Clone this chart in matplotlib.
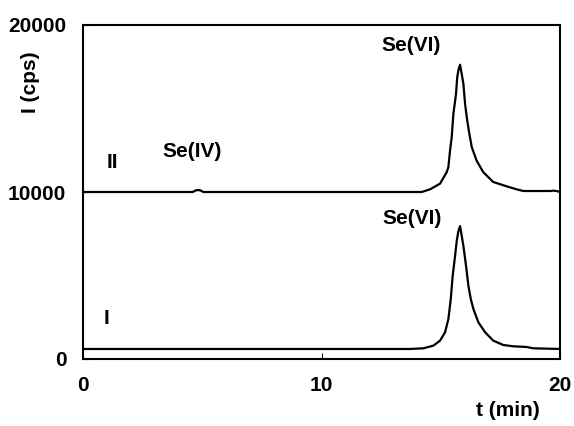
import matplotlib
matplotlib.use("Agg")
import matplotlib.pyplot as plt

# Trace I (lower): time (min) and intensity (cps)
t_I = [0.0, 4.0, 8.0, 12.0, 13.71, 14.27, 14.69, 14.97, 15.18, 15.32, 15.42, 15.50, 15.60,
       15.67, 15.74, 15.81, 15.88, 15.95, 16.06, 16.16, 16.26, 16.37, 16.58, 16.86,
       17.20, 17.62, 18.04, 18.60, 18.88, 20.0]
y_I = [600, 600, 600, 600, 600, 640, 800, 1100, 1600, 2390, 3590, 4980, 6170,
       7070, 7660, 7960, 7370, 6770, 5580, 4380, 3590, 2990, 2190, 1600,
       1100, 840, 760, 720, 640, 600]

# Trace II (upper): time (min) and intensity (cps)
t_II = [0.0, 4.6, 4.75, 4.9, 5.05, 14.20, 14.55, 14.97, 15.25, 15.32, 15.39, 15.46, 15.53,
        15.64, 15.69, 15.75, 15.81, 15.88, 15.95, 16.02, 16.11, 16.20, 16.30,
        16.50, 16.78, 17.20, 17.76, 18.18, 18.46, 19.6, 19.72, 19.85, 20.0]
y_II = [10000, 10000, 10110, 10110, 10000, 10000, 10160, 10500, 11190, 11490, 12490, 13280, 14680,
        15870, 16870, 17360, 17620, 17060, 16470, 15270, 14280, 13480, 12690,
        11890, 11190, 10600, 10340, 10160, 10060, 10060, 10080, 10060, 10000]

x_ticks = [0, 10, 20]
y_ticks = [0, 10000, 20000]

plt.rcParams['font.family'] = ['Liberation Sans', 'DejaVu Sans']
plt.rcParams['font.weight'] = 'bold'

FS = 15

fig = plt.figure(figsize=(5.74, 4.26), dpi=100)
ax = fig.add_axes([83/574, 1-359/426, (560-83)/574, (359-25)/426])

ax.plot(t_I, y_I, color='black', lw=1.6)
ax.plot(t_II, y_II, color='black', lw=1.6)

ax.set_xlim(0, 20)
ax.set_ylim(0, 20000)
ax.set_xticks(x_ticks)
ax.set_yticks(y_ticks)
ax.set_xticklabels([str(v) for v in x_ticks], fontsize=FS, fontweight='bold')
ax.set_yticklabels([str(v) for v in y_ticks], fontsize=FS, fontweight='bold')
ax.tick_params(direction='in', length=4, width=0.8, pad=12)
for s in ax.spines.values():
    s.set_linewidth(1.5)

ax.text(13.75, 18800, 'Se(VI)', fontsize=FS, fontweight='bold', ha='center', va='center')
ax.text(13.8, 8440, 'Se(VI)', fontsize=FS, fontweight='bold', ha='center', va='center')
ax.text(4.57, 12400, 'Se(IV)', fontsize=FS, fontweight='bold', ha='center', va='center')
ax.text(1.22, 11740, 'II', fontsize=FS, fontweight='bold', ha='center', va='center')
ax.text(1.0, 2455, 'I', fontsize=FS, fontweight='bold', ha='center', va='center')

fig.text(30/574, 1-82/426, 'I (cps)', rotation=90, fontsize=FS, fontweight='bold',
         ha='center', va='center')
fig.text(508/574, 1-410/426, 't (min)', fontsize=FS, fontweight='bold',
         ha='center', va='center')

fig.savefig('out.png', dpi=100)
